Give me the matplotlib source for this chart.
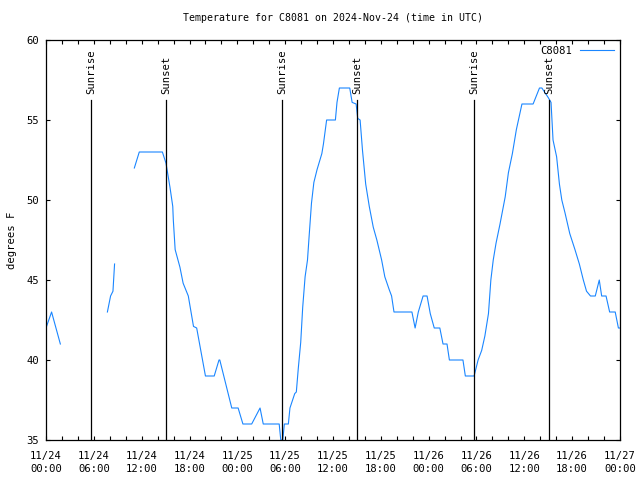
import numpy as np
import matplotlib
matplotlib.use("Agg")
import matplotlib.pyplot as plt
from matplotlib.ticker import MultipleLocator, FuncFormatter

# hours since 2024-11-24 00:00 UTC, NaN marks gaps
hours = [0.0, 0.7, 1.8, np.nan,
         7.7, 8.1, 8.4, 8.6, np.nan,
         11.08, 11.7, 14.6, 15.05, 15.55, 15.9, 15.97, 16.2, 16.8, 17.2, 17.85,
         18.5, 18.9, 20.0, 21.1, 21.7, 21.8, 23.3, 24.1, 24.7, 25.8, 26.85, 27.25,
         29.25, 29.45, 29.7, 29.9, 30.4, 30.6, 31.2, 31.4, 31.65, 31.95, 32.2, 32.5,
         32.8, 33.0, 33.3, 33.6, 34.0, 34.6, 34.8, 35.2, 36.3, 36.5, 36.8, 38.1,
         38.4, 38.9, 39.1, 39.4, 39.7, 40.1, 40.55, 41.05, 41.5, 42.1, 42.5, 43.05,
         43.35, 43.65, 45.9, 46.3, 46.7, 47.3, 47.8, 48.2, 48.7, 49.4, 49.8, 50.3,
         50.6, 52.3, 52.6, 53.7, 54.2, 54.65, 55.05, 55.5, 55.8, 56.1, 56.45, 56.95,
         57.6, 58.0, 58.5, 59.0, 59.7, 61.1, 61.9, 62.2, 63.0, 63.35, 63.6, 64.05,
         64.4, 64.7, 65.1, 65.7, 66.35, 66.9, 67.4, 67.8, 68.3, 68.9, 69.4, 69.7,
         70.25, 70.7, 71.4, 71.8, 72.0]
temps = [42, 43, 41, np.nan,
         43, 44, 44.3, 46, np.nan,
         52, 53, 53, 52.3, 50.8, 49.6, 48.75, 46.9, 45.8, 44.8, 44,
         42.1, 42, 39, 39, 40, 40, 37, 37, 36, 36, 37, 36,
         36, 35, 35, 36, 36, 37, 37.9, 38, 39.5, 41.1, 43.3, 45.2,
         46.25, 47.7, 49.8, 51.1, 51.9, 52.9, 53.5, 55, 55, 56.1, 57, 57,
         56.1, 56, 55.1, 55, 53.1, 51, 49.6, 48.3, 47.5, 46.25, 45.2, 44.4,
         44, 43, 43, 42, 43, 44, 44, 42.9, 42, 42, 41, 41,
         40, 40, 39, 39, 40, 40.6, 41.5, 42.9, 45, 46.25, 47.3, 48.5,
         50.2, 51.7, 52.9, 54.4, 56, 56, 57, 57, 56.4, 56.1, 53.75, 52.7,
         51, 50, 49.2, 47.9, 46.9, 46, 45, 44.3, 44, 44, 45, 44,
         44, 43, 43, 42, 42]

sun_events = [5.65, 15.05, 29.6, 39.0, 53.7, 63.1]
sun_labels = ["Sunrise", "Sunset", "Sunrise", "Sunset", "Sunrise", "Sunset"]

day_labels = ["11/24", "11/25", "11/26", "11/27"]

title = "Temperature for C8081 on 2024-Nov-24 (time in UTC)"
series_name = "C8081"

FONT = "DejaVu Sans Mono"
FS_TITLE = 7.1
FS = 7.6
plt.rcParams['font.family'] = [FONT]

fig = plt.figure(figsize=(6.4, 4.8), dpi=100)
ax = fig.add_axes([46/640, 1-440/480, (620-46)/640, 400/480])

ax.plot(hours, temps, color='#1a86ff', lw=0.8, label=series_name)

for h, lab in zip(sun_events, sun_labels):
    ax.axvline(h, ymin=0, ymax=(440-100)/400, color='black', lw=0.9)
    ax.text(h, 60 - (94-40)/16, lab, rotation=90, ha='center', va='bottom',
            fontsize=FS, family=FONT)

ax.set_xlim(0, 72)
ax.set_ylim(35, 60)
ax.xaxis.set_major_locator(MultipleLocator(2))
ax.yaxis.set_major_locator(MultipleLocator(5))

def xfmt(v, pos):
    v = int(round(v))
    if v % 6 != 0:
        return ""
    d = v // 24
    return f"{day_labels[d]}\n{v % 24:02d}:00"

ax.xaxis.set_major_formatter(FuncFormatter(xfmt))
ax.tick_params(axis='both', direction='in', length=3, width=0.8,
               top=True, right=True, labelsize=FS)
ax.tick_params(axis='x', pad=8)
ax.tick_params(axis='y', pad=5)
for lab in ax.get_xticklabels():
    lab.set_linespacing(1.35)
for s in ax.spines.values():
    s.set_linewidth(0.9)

ax.set_ylabel("degrees F", fontsize=FS, labelpad=7)
ax.set_title(title, fontsize=FS_TITLE, pad=14)

leg = ax.legend(loc='upper right', frameon=False, fontsize=FS,
                handlelength=3.2, markerfirst=False, borderaxespad=0.15,
                handletextpad=0.8)

fig.savefig("out.png", dpi=100)
